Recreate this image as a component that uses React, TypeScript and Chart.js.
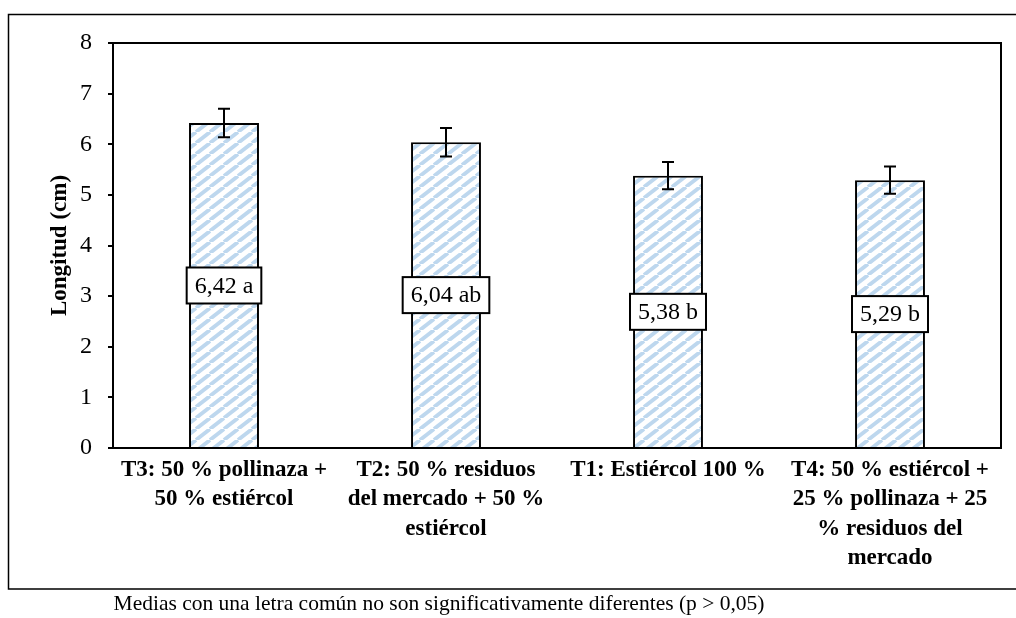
import React, { useEffect, useRef } from "react";
import { Chart, registerables } from "chart.js";

Chart.register(...registerables);

const categories: string[][] = [
  ["T3: 50 % pollinaza +", "50 % estiércol"],
  ["T2: 50 % residuos", "del mercado + 50 %", "estiércol"],
  ["T1: Estiércol 100 %"],
  ["T4: 50 % estiércol +", "25 % pollinaza + 25", "% residuos del", "mercado"],
];
const means: number[] = [6.42, 6.04, 5.38, 5.29];
const errors: number[] = [0.28, 0.28, 0.27, 0.27];
const letters: string[] = ["a", "ab", "b", "b"];
const yTitle = "Longitud (cm)";
const footnote = "Medias con una letra común no son significativamente diferentes (p > 0,05)";

const SERIF = '"Liberation Serif", "Times New Roman", serif';

function makePattern(): CanvasPattern | string {
  const w = 14;
  const h = 11;
  const c = document.createElement("canvas");
  c.width = w;
  c.height = h;
  const ctx = c.getContext("2d");
  if (!ctx) return "#BDD7EE";
  ctx.fillStyle = "#ffffff";
  ctx.fillRect(0, 0, w, h);
  ctx.strokeStyle = "#BDD7EE";
  ctx.lineWidth = 3.8;
  for (let k = -1; k <= 1; k++) {
    ctx.beginPath();
    ctx.moveTo(k * w, h);
    ctx.lineTo(k * w + w, 0);
    ctx.stroke();
  }
  const p = ctx.createPattern(c, "repeat");
  return p || "#BDD7EE";
}

const decorPlugin = {
  id: "decor",
  afterDatasetsDraw(chart: any) {
    const ctx = chart.ctx as CanvasRenderingContext2D;
    const area = chart.chartArea;
    const yScale = chart.scales.y;
    const meta = chart.getDatasetMeta(0);
    ctx.save();
    // plot frame top & right
    ctx.strokeStyle = "#000";
    ctx.lineWidth = 2;
    ctx.beginPath();
    ctx.moveTo(area.left, area.top);
    ctx.lineTo(area.right, area.top);
    ctx.lineTo(area.right, area.bottom);
    ctx.stroke();
    // error bars
    meta.data.forEach((el: any, i: number) => {
      const x = el.x;
      const yTop = yScale.getPixelForValue(means[i] + errors[i]);
      const yBot = yScale.getPixelForValue(means[i] - errors[i]);
      ctx.lineWidth = 2;
      ctx.beginPath();
      ctx.moveTo(x, yTop);
      ctx.lineTo(x, yBot);
      ctx.moveTo(x - 6, yTop);
      ctx.lineTo(x + 6, yTop);
      ctx.moveTo(x - 6, yBot);
      ctx.lineTo(x + 6, yBot);
      ctx.stroke();
    });
    // value labels
    ctx.font = `24px ${SERIF}`;
    ctx.textAlign = "center";
    ctx.textBaseline = "middle";
    meta.data.forEach((el: any, i: number) => {
      const text = means[i].toFixed(2).replace(".", ",") + " " + letters[i];
      const tw = ctx.measureText(text).width;
      const bw = tw + 16;
      const bh = 36;
      const cx = el.x;
      const cy = yScale.getPixelForValue(means[i] / 2);
      ctx.fillStyle = "#fff";
      ctx.fillRect(cx - bw / 2, cy - bh / 2, bw, bh);
      ctx.strokeStyle = "#000";
      ctx.lineWidth = 2;
      ctx.strokeRect(cx - bw / 2, cy - bh / 2, bw, bh);
      ctx.fillStyle = "#000";
      ctx.fillText(text, cx, cy + 1);
    });
    ctx.restore();
  },
  afterDraw(chart: any) {
    const ctx = chart.ctx as CanvasRenderingContext2D;
    ctx.save();
    ctx.strokeStyle = "#000";
    ctx.lineWidth = 1.5;
    ctx.beginPath();
    ctx.moveTo(1016, 14.5);
    ctx.lineTo(8.5, 14.5);
    ctx.lineTo(8.5, 589);
    ctx.lineTo(1016, 589);
    ctx.stroke();
    ctx.fillStyle = "#000";
    ctx.font = `21.5px ${SERIF}`;
    ctx.textAlign = "center";
    ctx.textBaseline = "middle";
    ctx.fillText(footnote, 439, 604);
    ctx.restore();
  },
};

export default function App() {
  const ref = useRef<HTMLCanvasElement | null>(null);
  useEffect(() => {
    document.body.style.margin = "0";
    const canvas = ref.current;
    if (!canvas) return;
    const chart = new Chart(canvas, {
      type: "bar",
      data: {
        labels: categories,
        datasets: [
          {
            data: means,
            backgroundColor: makePattern() as any,
            borderColor: "#000",
            borderWidth: 2,
            barPercentage: 0.315,
            categoryPercentage: 1,
          },
        ],
      },
      options: {
        responsive: false,
        animation: false,
        devicePixelRatio: 1,
        layout: { padding: { left: 0, top: 43, right: 15, bottom: 29 } },
        plugins: {
          legend: { display: false },
          tooltip: { enabled: false },
        },
        scales: {
          x: {
            grid: { display: false, drawTicks: false, tickLength: 0 },
            border: { display: true, color: "#000", width: 2 },
            ticks: {
              color: "#000",
              font: { family: SERIF, size: 23, weight: "bold", lineHeight: 1.28 },
              padding: 7,
              maxRotation: 0,
              autoSkip: false,
            },
            afterFit: (s: any) => {
              s.height = 141;
            },
          },
          y: {
            min: 0,
            max: 8,
            grid: {
              display: true,
              drawOnChartArea: false,
              drawTicks: true,
              tickLength: 5,
              color: "#000",
              lineWidth: 2,
            },
            border: { display: true, color: "#000", width: 2 },
            ticks: {
              stepSize: 1,
              color: "#000",
              font: { family: SERIF, size: 24 },
              padding: 16,
            },
            title: {
              display: true,
              text: yTitle,
              color: "#000",
              font: { family: SERIF, size: 23, weight: "bold" },
              padding: { top: 46, bottom: 0 },
            },
            afterFit: (s: any) => {
              s.width = 113;
            },
          },
        },
      },
      plugins: [decorPlugin],
    });
    return () => chart.destroy();
  }, []);
  return <canvas ref={ref} width={1016} height={618} style={{ display: "block" }} />;
}
